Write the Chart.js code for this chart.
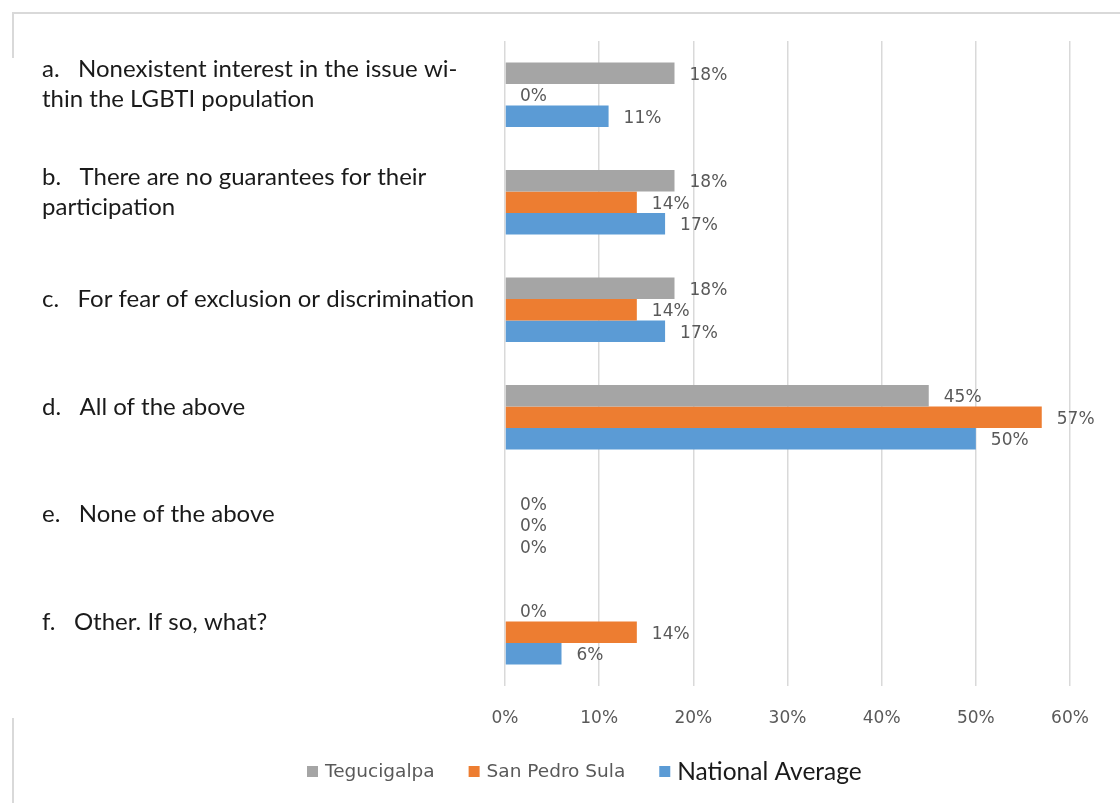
<!DOCTYPE html>
<html>
<head>
<meta charset="utf-8">
<script src="https://cdn.jsdelivr.net/npm/chart.js@4.4.1/dist/chart.umd.min.js"></script>
<style>
  body { margin: 0; background: #fff; }
  #wrap { position: relative; width: 1120px; height: 803px; }
  #myChart { position: absolute; left: 0; top: 0; }
  .edge { position: absolute; background: #d9d9d9; }
</style>
</head>
<body>
<div id="wrap">
  <div class="edge" style="left:12px;top:12px;width:1108px;height:2px"></div>
  <div class="edge" style="left:12px;top:12px;width:2px;height:46px"></div>
  <div class="edge" style="left:12px;top:718px;width:2px;height:85px"></div>
  <canvas id="myChart" width="1120" height="803"></canvas>
</div>
<script>
// 类别 (y 轴) 与三组数据
const categories = [
  ['a.   Nonexistent interest in the issue wi-', 'thin the LGBTI population'],
  ['b.   There are no guarantees for their', 'participation'],
  'c.   For fear of exclusion or discrimination',
  'd.   All of the above',
  'e.   None of the above',
  'f.   Other. If so, what?'
]
const tegucigalpa = [18, 18, 18, 45, 0, 0]
const sanPedroSula = [0, 14, 14, 57, 0, 14]
const nationalAverage = [11, 17, 17, 50, 0, 6]
const xTicks = [0, 10, 20, 30, 40, 50, 60]

// 每个条形右边写百分比
const valueLabels = {
  id: 'valueLabels',
  afterDatasetsDraw(chart) {
    const ctx = chart.ctx
    ctx.save()
    ctx.font = '17px "DejaVu Sans"'
    ctx.fillStyle = '#595959'
    ctx.textAlign = 'left'
    ctx.textBaseline = 'middle'
    chart.data.datasets.forEach((ds, i) => {
      chart.getDatasetMeta(i).data.forEach((bar, j) => {
        ctx.fillText(ds.data[j] + '%', bar.x + 15, bar.y + 2)
      })
    })
    ctx.restore()
  }
}

// 底部图例 (自己画，字体不一样)
const bottomLegend = {
  id: 'bottomLegend',
  afterDraw(chart) {
    const ctx = chart.ctx
    let x = 307
    const y = 772
    ctx.save()
    ctx.textBaseline = 'middle'
    ctx.textAlign = 'left'
    chart.data.datasets.forEach(ds => {
      ctx.fillStyle = ds.backgroundColor
      ctx.fillRect(x, y - 6, 11, 11)
      ctx.font = ds.legendFont
      ctx.fillStyle = ds.legendColor
      ctx.fillText(ds.label, x + 18, y)
      x += 18 + ctx.measureText(ds.label).width + 34
    })
    ctx.restore()
  }
}

const ctx = document.getElementById('myChart').getContext('2d')
const myChart = new Chart(ctx, {
  type: 'bar',
  data: {
    labels: categories,
    datasets: [
      {
        label: 'Tegucigalpa',
        data: tegucigalpa,
        backgroundColor: '#A5A5A5',
        legendFont: '18.5px "DejaVu Sans"',
        legendColor: '#595959'
      },
      {
        label: 'San Pedro Sula',
        data: sanPedroSula,
        backgroundColor: '#ED7D31',
        legendFont: '18.5px "DejaVu Sans"',
        legendColor: '#595959'
      },
      {
        label: 'National Average',
        data: nationalAverage,
        backgroundColor: '#5B9BD5',
        legendFont: '24.5px Lato',
        legendColor: '#1a1a1a'
      }
    ]
  },
  options: {
    indexAxis: 'y',
    responsive: false,
    animation: false,
    barPercentage: 1,
    categoryPercentage: 0.6,
    layout: { padding: { left: 42, top: 41, right: 50, bottom: 0 } },
    plugins: {
      legend: { display: false },
      tooltip: { enabled: false }
    },
    scales: {
      x: {
        min: 0,
        max: 60,
        afterFit(scale) { scale.height = 117 },
        afterBuildTicks(scale) { scale.ticks = xTicks.map(v => ({ value: v })) },
        grid: { color: '#d9d9d9', lineWidth: 1.5, drawTicks: false },
        border: { display: false },
        ticks: {
          padding: 22,
          color: '#595959',
          font: { family: 'DejaVu Sans', size: 17 },
          callback: v => v + '%'
        }
      },
      y: {
        afterFit(scale) { scale.width = 463 },
        grid: { display: false },
        border: { display: false },
        ticks: {
          crossAlign: 'far',
          autoSkip: false,
          labelOffset: -10,
          color: '#1a1a1a',
          font: { family: 'Lato', size: 24, lineHeight: 1.25 }
        }
      }
    }
  },
  plugins: [valueLabels, bottomLegend]
})
</script>
</body>
</html>
